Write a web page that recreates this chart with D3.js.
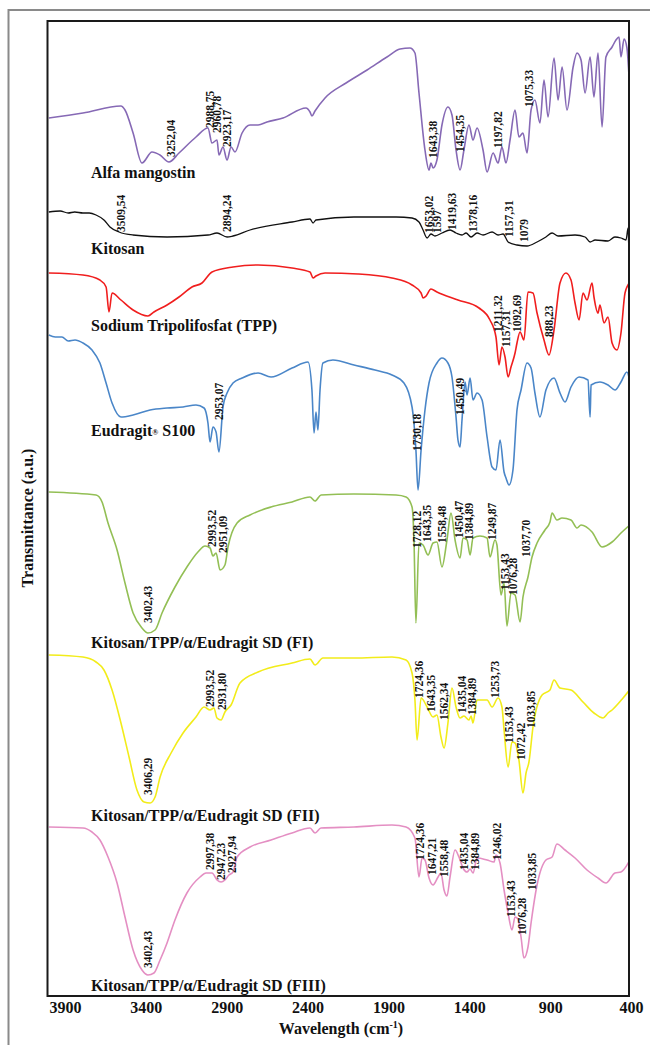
<!DOCTYPE html>
<html>
<head>
<meta charset="utf-8">
<script src="https://cdn.jsdelivr.net/npm/d3@7"></script>
<style>
  body { margin: 0; background: #fff; }
  svg text { font-family: "Liberation Serif", "Times New Roman", serif; font-weight: bold; fill: #111; }
</style>
</head>
<body>
<svg id="chart"></svg>
<script>
// x ticks (cm-1)
const wavenumberTicks = [3900, 3400, 2900, 2400, 1900, 1400, 900, 400];

const seriesNames = [
  "Alfa mangostin",
  "Kitosan",
  "Sodium Tripolifosfat (TPP)",
  "Eudragit",
  "Kitosan/TPP/α/Eudragit SD (FI)",
  "Kitosan/TPP/α/Eudragit SD (FII)",
  "Kitosan/TPP/α/Eudragit SD (FIII)"
];

// spectra: [wavenumber, transmittance (a.u., stacked)]
const alfaMangostin = [
  [4000,878],[3789,883],[3554,890],[3529,886],[3479,863],[3424,833],[3362,844],[3313,841],[3257,834],
  [3195,843],[3090,859],[3016,868],[2991,853],[2960,856],[2948,841],[2923,849],[2898,836],[2873,849],
  [2849,844],[2805,863],[2756,871],[2706,871],[2651,874],[2552,878],[2410,888],[2385,884],[2373,880],
  [2354,885],[2292,898],[2162,913],[2032,926],[1909,939],[1828,947],[1767,948],[1736,943],[1711,903],
  [1674,846],[1649,826],[1637,833],[1624,828],[1600,836],[1569,871],[1532,889],[1507,881],[1482,846],
  [1457,826],[1433,846],[1402,871],[1377,856],[1352,868],[1315,846],[1290,824],[1253,843],[1222,833],
  [1198,849],[1173,833],[1148,856],[1117,886],[1093,859],[1068,863],[1043,843],[1018,886],[994,896],
  [963,873],[938,916],[913,879],[876,938],[851,896],[826,929],[796,886],[758,929],[734,943],[709,936],
  [684,903],[653,939],[629,899],[604,943],[579,869],[555,939],[517,949],[493,956],[474,959],[462,939],
  [443,957],[425,948],[410,913]
];

const kitosan = [
  [4000,784],[3930,785],[3880,783],[3840,784],[3789,783],[3750,783],[3708,781],[3659,776],[3622,769],
  [3566,764],[3480,761],[3269,759],[3016,761],[2960,763],[2898,759],[2861,760],[2756,766],[2496,774],
  [2385,777],[2366,773],[2348,776],[2113,779],[1853,779],[1754,778],[1711,774],[1686,766],[1661,758],
  [1637,762],[1612,760],[1569,763],[1519,766],[1482,763],[1445,761],[1420,763],[1389,759],[1352,763],
  [1315,761],[1259,764],[1222,761],[1191,762],[1160,754],[1105,751],[1043,750],[981,754],[926,759],
  [888,763],[851,760],[746,761],[684,759],[653,754],[622,756],[542,755],[500,759],[462,758],[431,756],
  [418,768],[412,741],[406,758]
];

const tpp = [
  [4000,723],[3789,721],[3684,716],[3646,709],[3628,684],[3609,703],[3554,696],[3479,686],[3387,680],
  [3350,684],[3269,691],[3195,699],[3115,709],[3053,713],[2991,724],[2861,729],[2706,731],[2496,728],
  [2385,724],[2366,718],[2348,720],[2292,723],[2088,722],[1878,718],[1754,711],[1698,703],[1686,698],
  [1667,700],[1637,707],[1600,704],[1470,696],[1340,688],[1272,676],[1235,659],[1216,631],[1198,649],
  [1179,639],[1160,619],[1142,629],[1117,643],[1105,653],[1086,664],[1062,656],[1037,704],[1006,703],
  [981,683],[938,656],[907,641],[876,666],[839,713],[802,723],[771,716],[746,693],[721,676],[697,703],
  [672,696],[641,713],[629,699],[604,683],[592,691],[567,673],[542,679],[517,653],[487,646],[462,663],
  [437,703],[406,714]
];

const eudragit = [
  [4000,661],[3960,659],[3919,659],[3880,655],[3838,656],[3789,653],[3733,646],[3684,633],[3646,613],
  [3609,593],[3554,579],[3479,581],[3374,586],[3269,588],[3170,589],[3090,591],[3040,588],[3016,573],
  [3003,554],[2985,569],[2966,564],[2948,544],[2923,589],[2898,603],[2861,613],[2805,618],[2706,623],
  [2626,619],[2496,628],[2397,634],[2373,606],[2360,563],[2348,584],[2336,566],[2323,606],[2305,633],
  [2243,636],[2113,631],[1983,626],[1878,621],[1804,613],[1754,589],[1730,546],[1717,506],[1698,546],
  [1674,586],[1649,613],[1600,633],[1569,638],[1532,633],[1507,619],[1482,579],[1470,556],[1457,549],
  [1445,576],[1426,614],[1414,601],[1395,618],[1377,596],[1352,603],[1321,596],[1290,559],[1259,529],
  [1235,526],[1210,556],[1185,524],[1173,518],[1154,511],[1130,526],[1105,586],[1080,606],[1043,633],
  [1018,628],[994,603],[963,579],[926,606],[876,618],[839,603],[808,594],[771,609],[721,619],[666,616],
  [653,579],[647,611],[592,614],[542,611],[499,606],[462,614],[425,624],[406,613]
];

const formulaFI = [
  [4000,504],[3708,501],[3671,494],[3634,473],[3578,446],[3529,413],[3479,383],[3424,368],[3387,363],
  [3343,366],[3300,383],[3220,409],[3146,429],[3078,444],[3034,450],[3003,448],[2985,440],[2966,443],
  [2941,426],[2911,431],[2892,449],[2836,473],[2756,481],[2626,489],[2496,494],[2385,499],[2354,495],
  [2317,501],[2113,502],[1853,501],[1791,499],[1754,489],[1742,456],[1730,373],[1711,453],[1686,451],
  [1655,441],[1624,453],[1600,454],[1569,429],[1538,456],[1513,483],[1488,456],[1457,438],[1439,458],
  [1414,456],[1395,441],[1377,458],[1334,460],[1290,458],[1272,439],[1241,456],[1229,451],[1204,401],
  [1185,413],[1167,370],[1142,403],[1117,401],[1086,374],[1068,399],[1037,419],[1012,439],[981,453],
  [932,466],[901,474],[888,483],[858,476],[827,478],[771,476],[734,468],[709,471],[641,464],[579,449],
  [517,454],[462,463],[400,472]
];

const formulaFII = [
  [4000,341],[3789,339],[3708,334],[3659,326],[3609,306],[3554,273],[3504,239],[3455,206],[3411,194],
  [3374,193],[3343,199],[3312,219],[3244,243],[3170,263],[3090,279],[3040,289],[3003,286],[2979,288],
  [2960,278],[2935,276],[2911,284],[2873,291],[2818,313],[2706,324],[2496,333],[2385,337],[2354,331],
  [2305,338],[2113,338],[1878,339],[1791,336],[1754,323],[1736,296],[1723,256],[1698,298],[1661,289],
  [1624,279],[1600,281],[1575,259],[1556,248],[1532,273],[1507,308],[1482,289],[1457,278],[1433,280],
  [1402,276],[1389,280],[1377,273],[1352,296],[1290,296],[1259,289],[1222,298],[1198,289],[1185,266],
  [1160,229],[1136,254],[1117,253],[1093,236],[1068,203],[1049,223],[1031,234],[1006,269],[950,301],
  [901,306],[876,316],[839,308],[771,306],[697,294],[629,283],[573,278],[542,283],[517,286],[449,298],
  [400,308]
];

const formulaFIII = [
  [4000,169],[3789,168],[3733,164],[3684,156],[3634,139],[3578,113],[3529,79],[3479,46],[3424,26],
  [3387,21],[3350,23],[3312,36],[3269,53],[3220,76],[3146,103],[3065,119],[3028,123],[2991,123],
  [2960,116],[2935,114],[2911,116],[2886,121],[2861,124],[2836,139],[2756,149],[2626,156],[2496,163],
  [2385,168],[2354,163],[2317,168],[2113,169],[1878,171],[1791,169],[1736,158],[1711,119],[1692,138],
  [1674,136],[1649,118],[1624,111],[1593,119],[1575,123],[1556,106],[1538,100],[1519,119],[1488,146],
  [1464,139],[1439,128],[1414,124],[1395,127],[1377,123],[1352,138],[1290,136],[1247,134],[1235,141],
  [1210,133],[1185,106],[1160,83],[1136,66],[1117,79],[1099,77],[1080,59],[1062,38],[1037,49],
  [1018,73],[981,111],[926,136],[888,139],[858,152],[808,146],[746,138],[672,126],[604,118],[555,113],
  [499,123],[462,124],[400,138]
];

// peak annotations: [text, wavenumber, transmittance at text start]
const alfaPeaks = [
  ["3252,04",3244,839],["2988,75",3003,868],["2960,78",2960,863],["2923,17",2898,849],
  ["1643,38",1624,838],["1454,35",1457,844],["1197,82",1222,848],["1075,33",1031,889]
];
const kitosanPeaks = [
  ["3509,54",3554,764],["2894,24",2898,764],["1653,02",1652,763],["1597",1598,763],
  ["1419,63",1507,766],["1378,16",1377,764],["1157,31",1154,759],["1079",1062,754]
];
const tppPeaks = [
  ["1211,32",1222,664],["1157,31",1173,649],["1092,69",1105,664],["888,23",907,659]
];
const eudragitPeaks = [
  ["2953,07",2948,576],["1730,18",1723,545],["1450,49",1457,581]
];
const fiPeaks = [
  ["3402,43",3387,373],["2993,52",2991,449],["2951,09",2923,443],["1728,12",1723,448],
  ["1643,35",1661,454],["1558,48",1569,453],["1450,47",1465,458],["1384,89",1405,456],
  ["1249,87",1262,456],["1153,43",1179,406],["1076,28",1130,401],["1037,70",1049,439]
];
const fiiPeaks = [
  ["3406,29",3387,201],["2993,52",3003,289],["2931,80",2929,286],["1724,36",1711,298],
  ["1643,35",1637,284],["1562,34",1556,276],["1435,04",1445,283],["1384,89",1383,281],
  ["1253,73",1241,298],["1153,43",1154,253],["1072,42",1080,236],["1033,85",1018,268]
];
const fiiiPeaks = [
  ["3402,43",3387,28],["2997,38",3003,126],["2947,23",2935,116],["2927,94",2867,123],
  ["1724,36",1705,136],["1647,21",1630,121],["1558,48",1556,119],["1435,04",1433,126],
  ["1384,89",1365,126],["1246,02",1228,136],["1153,43",1142,79],["1076,28",1074,61],
  ["1033,85",1012,106]
];

const spectra = [alfaMangostin, kitosan, tpp, eudragit, formulaFI, formulaFII, formulaFIII];
const peaks = [alfaPeaks, kitosanPeaks, tppPeaks, eudragitPeaks, fiPeaks, fiiPeaks, fiiiPeaks];
const colors = ["#8669B5", "#111111", "#F01E1E", "#4A86C8", "#93BF55", "#F2EC1A", "#E48FC3"];
const nameBaselines = [818, 742, 665, 560, 348, 175, 5];

const width = 650, height = 1045;
const box = { left: 47.5, right: 629, top: 21, bottom: 996 };

const svg = d3.select("#chart").attr("width", width).attr("height", height);

const x = d3.scaleLinear().domain([3900, 400]).range([65, 631]);
const y = d3.scaleLinear().domain([0, 975]).range([box.bottom, box.top]);

// outer page frame
svg.append("path")
  .attr("d", `M8.5,${height} V10 H${width}`)
  .attr("fill", "none")
  .attr("stroke", "#8a8a8a")
  .attr("stroke-width", 2);

svg.append("clipPath").attr("id", "plot-clip")
  .append("rect")
  .attr("x", box.left).attr("y", box.top)
  .attr("width", box.right - box.left).attr("height", box.bottom - box.top);

const line = d3.line()
  .x(d => x(d[0]))
  .y(d => y(d[1]))
  .curve(d3.curveMonotoneX);

const traces = svg.append("g").attr("clip-path", "url(#plot-clip)");
spectra.forEach((s, i) => {
  traces.append("path")
    .datum(s)
    .attr("d", line)
    .attr("fill", "none")
    .attr("stroke", colors[i])
    .attr("stroke-width", i == 1 ? 1.3 : 1.6)
    .attr("stroke-linejoin", "round");
});

// plot box
svg.append("rect")
  .attr("x", box.left).attr("y", box.top)
  .attr("width", box.right - box.left).attr("height", box.bottom - box.top)
  .attr("fill", "none")
  .attr("stroke", "#1a1a1a")
  .attr("stroke-width", 2);

// peak labels, rotated
peaks.forEach(list => {
  svg.append("g").selectAll("text")
    .data(list)
    .enter().append("text")
    .attr("transform", d => `translate(${x(d[1])},${y(d[2])}) rotate(-90)`)
    .attr("dy", "0.35em")
    .style("font-size", "11.5px")
    .text(d => d[0]);
});

// series names
seriesNames.forEach((name, i) => {
  const t = svg.append("text")
    .attr("x", 91)
    .attr("y", y(nameBaselines[i]))
    .style("font-size", "16px")
    .text(name);
  if (name === "Eudragit") {
    t.append("tspan").style("font-size", "8px").attr("dy", "-1").text("®");
    t.append("tspan").attr("dy", "1").text(" S100");
  }
});

// x axis
const xAxis = svg.append("g")
  .attr("transform", `translate(0,${box.bottom})`)
  .call(d3.axisBottom(x).tickValues(wavenumberTicks).tickSize(0).tickPadding(6).tickFormat(d3.format("d")));
xAxis.select(".domain").remove();
xAxis.selectAll("text").style("font-size", "16px").attr("fill", "#111");

// axis titles
const xTitle = svg.append("text")
  .attr("x", 341)
  .attr("y", 1034)
  .attr("text-anchor", "middle")
  .style("font-size", "16px")
  .text("Wavelength (cm");
xTitle.append("tspan").style("font-size", "10px").attr("dy", "-6").text("-1");
xTitle.append("tspan").attr("dy", "6").text(")");

svg.append("text")
  .attr("transform", "translate(33,518) rotate(-90)")
  .attr("text-anchor", "middle")
  .style("font-size", "16px")
  .text("Transmittance (a.u.)");
</script>
</body>
</html>
